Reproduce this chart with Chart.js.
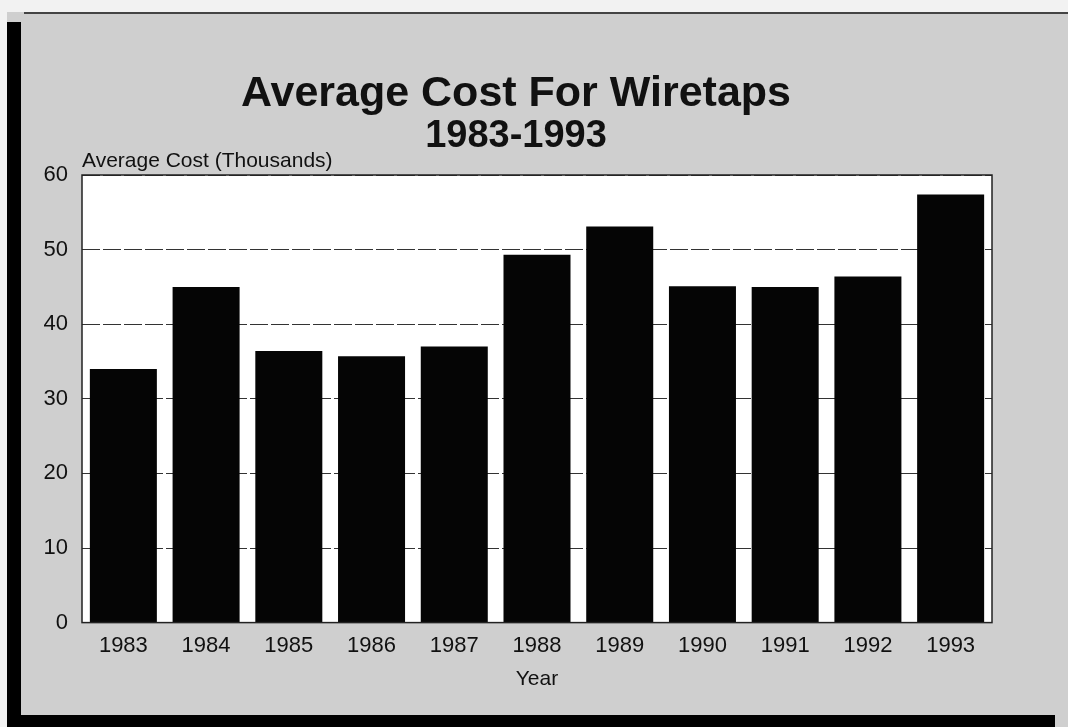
<!DOCTYPE html>
<html>
<head>
<meta charset="utf-8">
<script src="https://cdn.jsdelivr.net/npm/chart.js@4"></script>
<style>
    html, body { margin: 0; padding: 0; }
    body { width: 1068px; height: 727px; background: #f2f2f2; position: relative; overflow: hidden; }
    #paper { position: absolute; left: 7px; top: 12px; width: 1061px; height: 715px; background: #cfcfcf; }
    #edgeLeft { position: absolute; left: 7px; top: 22px; width: 14px; height: 700px; background: #000; }
    #edgeBottom { position: absolute; left: 7px; top: 715px; width: 1048px; height: 12px; background: #000; }
    #edgeTop { position: absolute; left: 24px; top: 12px; width: 1044px; height: 2px; background: #444; }
    #wrap { position: absolute; left: 0; top: 0; width: 1068px; height: 727px; }
</style>
</head>
<body>
<div id="paper"></div>
<div id="edgeTop"></div>
<div id="edgeLeft"></div>
<div id="edgeBottom"></div>
<div id="wrap"><canvas id="wiretaps"></canvas></div>
<script>
// Years on the x axis
const years = ['1983', '1984', '1985', '1986', '1987', '1988', '1989', '1990', '1991', '1992', '1993'];
// Average cost per wiretap, thousands of dollars
const avgCost = [34.0, 45.0, 36.4, 35.7, 37.0, 49.3, 53.1, 45.1, 45.0, 46.4, 57.4];
// Y axis ticks
const yTicks = [0, 10, 20, 30, 40, 50, 60];

const fontFamily = '"Liberation Sans", Arial, sans-serif';

// White plot area with a box round it, plus the axis caption above it
const plotFrame = {
    id: 'plotFrame',
    beforeDraw(chart) {
        const { ctx, chartArea } = chart;
        ctx.save();
        ctx.fillStyle = '#ffffff';
        ctx.fillRect(chartArea.left, chartArea.top, chartArea.right - chartArea.left, chartArea.bottom - chartArea.top);
        ctx.restore();
    },
    afterDraw(chart) {
        const { ctx, chartArea } = chart;
        ctx.save();
        ctx.strokeStyle = '#222222';
        ctx.lineWidth = 1.5;
        ctx.strokeRect(chartArea.left, chartArea.top, chartArea.right - chartArea.left, chartArea.bottom - chartArea.top);
        // caption for the value axis, written flat above the plot
        ctx.fillStyle = '#111111';
        ctx.font = '21px ' + fontFamily;
        ctx.textAlign = 'left';
        ctx.textBaseline = 'bottom';
        ctx.fillText('Average Cost (Thousands)', chartArea.left, chartArea.top - 3);
        ctx.restore();
    }
};

document.addEventListener('DOMContentLoaded', () => {
    const canvas = document.getElementById('wiretaps');
    new Chart(canvas, {
        type: 'bar',
        data: {
            labels: years,
            datasets: [{
                label: 'Average Cost',
                data: avgCost,
                backgroundColor: '#050505',
                borderWidth: 0,
                barPercentage: 0.81,
                categoryPercentage: 1.0
            }]
        },
        options: {
            responsive: false,
            animation: false,
            layout: {
                padding: { left: 40, right: 76, top: 0, bottom: 37 }
            },
            plugins: {
                legend: { display: false },
                tooltip: { enabled: false },
                title: {
                    display: true,
                    text: 'Average Cost For Wiretaps',
                    color: '#111111',
                    font: { family: fontFamily, size: 43, weight: 'bold', lineHeight: 1.0 },
                    padding: { top: 73, bottom: 2 }
                },
                subtitle: {
                    display: true,
                    text: '1983-1993',
                    color: '#111111',
                    font: { family: fontFamily, size: 38, weight: 'bold', lineHeight: 1.0 },
                    padding: { top: 0, bottom: 19 }
                }
            },
            scales: {
                x: {
                    grid: { display: false, drawTicks: false },
                    border: { display: false },
                    ticks: {
                        color: '#111111',
                        padding: 10,
                        font: { family: fontFamily, size: 22 }
                    },
                    title: {
                        display: true,
                        text: 'Year',
                        color: '#111111',
                        font: { family: fontFamily, size: 21, lineHeight: 1.0 },
                        padding: { top: 0, bottom: 0 }
                    }
                },
                y: {
                    min: 0,
                    max: 60,
                    afterFit(scale) { scale.width = 42; },
                    afterBuildTicks(scale) { scale.ticks = yTicks.map(v => ({ value: v })); },
                    grid: {
                        color: '#333333',
                        lineWidth: 1,
                        drawTicks: false
                    },
                    border: { display: false, dash: [18, 3] },
                    ticks: {
                        color: '#111111',
                        padding: 14,
                        font: { family: fontFamily, size: 22 }
                    }
                }
            }
        },
        plugins: [plotFrame]
    });
});
</script>
<script>
// size the canvas to the window before the chart is built
const cv = document.getElementById('wiretaps');
cv.width = 1068;
cv.height = 727;
cv.style.width = '1068px';
cv.style.height = '727px';
</script>
</body>
</html>
